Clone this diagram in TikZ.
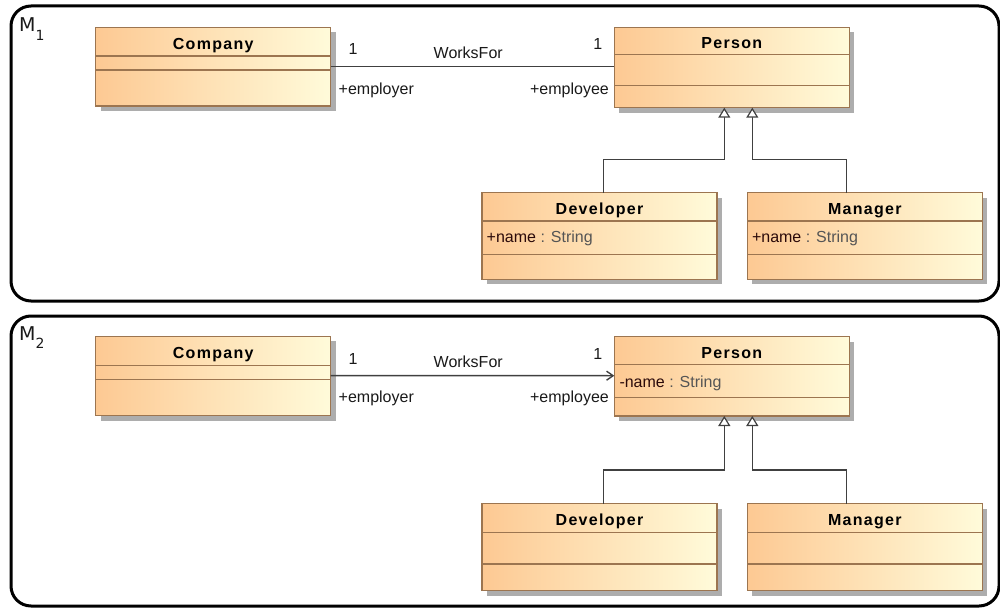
\documentclass[tikz,border=0pt]{standalone}
\usepackage{fontspec}
\setmainfont{Liberation Sans}
\newfontfamily\titlefont{Liberation Sans}[LetterSpace=8]
\newfontfamily\framefont{DejaVu Sans}
\usetikzlibrary{arrows.meta,shadows,calc}

\definecolor{clsleft}{HTML}{FDC993}
\definecolor{clsright}{HTML}{FFFBDA}
\definecolor{clsborder}{HTML}{9C7550}
\definecolor{clsshadow}{HTML}{ADADAD}
\definecolor{wire}{HTML}{404040}
\definecolor{attrname}{HTML}{2B0A0A}
\definecolor{attrtype}{HTML}{555555}

\begin{document}
\begin{tikzpicture}[x=1pt,y=-1pt,
  classbox/.style={draw=clsborder, line width=1.3pt, left color=clsleft, right color=clsright,
    minimum width=235pt, inner sep=0pt, outer sep=0pt, anchor=north west,
    drop shadow={shadow xshift=5pt, shadow yshift=-5pt, fill=clsshadow, opacity=1}},
  sepline/.style={draw=clsborder, line width=1.3pt},
  classname/.style={anchor=base, inner sep=0pt, font=\titlefont\bfseries\fontsize{16}{19}\selectfont},
  attrtext/.style={anchor=base west, inner sep=0pt, font=\fontsize{16}{19}\selectfont},
  roletext/.style={inner sep=0pt, font=\fontsize{16}{19}\selectfont, text=black!90},
  wireline/.style={draw=wire, line width=1.4pt},
  gen/.style={wireline, -{Triangle[length=10pt, width=12pt, fill=white, line width=1.2pt]}},
  nav/.style={wireline, -{Straight Barb[length=6.5pt, width=9pt]}},
  frame/.style={draw=black, line width=3pt, rounded corners=20pt},
  framelabel/.style={anchor=base west, inner sep=0pt, text=black!90,
    font=\framefont\fontsize{19}{22}\selectfont}
]
\useasboundingbox (0,0) rectangle (1000,612);

% ---------- model M1 ----------
\draw[frame] (11,6) rectangle (999,301);
\node[framelabel] (m1label) at (19,31.7) {M\raisebox{-8.5pt}{\fontsize{14}{16}\selectfont 1}};

\node[classbox, minimum height=78.7pt] (compA) at (95.7,27.3) {};
\node[classbox, minimum height=80.4pt] (persA) at (614.3,27.3) {};
\node[classbox, minimum height=86.6pt] (devA) at (482,192.7) {};
\node[classbox, minimum height=86.6pt] (mgrA) at (747.3,192.7) {};

\draw[sepline] ($(compA.north west)+(0,28.7)$) -- ($(compA.north east)+(0,28.7)$);
\draw[sepline] ($(compA.north west)+(0,42.7)$) -- ($(compA.north east)+(0,42.7)$);
\draw[sepline] ($(persA.north west)+(0,27.4)$) -- ($(persA.north east)+(0,27.4)$);
\draw[sepline] ($(persA.north west)+(0,58)$) -- ($(persA.north east)+(0,58)$);
\draw[sepline] ($(devA.north west)+(0,28.3)$) -- ($(devA.north east)+(0,28.3)$);
\draw[sepline] ($(devA.north west)+(0,61.6)$) -- ($(devA.north east)+(0,61.6)$);
\draw[sepline] ($(mgrA.north west)+(0,28.3)$) -- ($(mgrA.north east)+(0,28.3)$);
\draw[sepline] ($(mgrA.north west)+(0,61.6)$) -- ($(mgrA.north east)+(0,61.6)$);

\node[classname] (compAname) at ($(compA.north)+(0,22.3)$) {Company};
\node[classname] (persAname) at ($(persA.north)+(0,21.6)$) {Person};
\node[classname] (devAname) at ($(devA.north)+(0,21.8)$) {Developer};
\node[classname] (mgrAname) at ($(mgrA.north)+(0,21.8)$) {Manager};

\node[attrtext] (devAattr) at ($(devA.north west)+(4.5,49.6)$)
  {{\color{attrname}+name}\ {\color{attrtype}: String}};
\node[attrtext] (mgrAattr) at ($(mgrA.north west)+(4.5,49.6)$)
  {{\color{attrname}+name}\ {\color{attrtype}: String}};

\draw[wireline] ($(compA.north east)+(0,39.4)$) -- ($(persA.north west)+(0,39.4)$);
\node[roletext, anchor=base west] (compAmult) at (348.5,55) {1};
\node[roletext, anchor=base east] (persAmult) at (602.5,49.3) {1};
\node[roletext, anchor=base west] (assocA) at (433.5,58.3) {WorksFor};
\node[roletext, anchor=base west] (compArole) at (338.5,94.5) {+employer};
\node[roletext, anchor=base east] (persArole) at (609,94.5) {+employee};

\draw[gen] ([xshift=4.2pt]devA.north) -- ++(0,-33.4) -| ([xshift=-7.5pt]persA.south);
\draw[gen] ([xshift=-18.1pt]mgrA.north) -- ++(0,-33.4) -| ([xshift=20.5pt]persA.south);

% ---------- model M2 ----------
\draw[frame] (11,316) rectangle (999,606);
\node[framelabel] (m2label) at (19,340) {M\raisebox{-8.5pt}{\fontsize{14}{16}\selectfont 2}};

\node[classbox, minimum height=79.3pt] (compB) at (95.7,336.3) {};
\node[classbox, minimum height=79.3pt] (persB) at (614.3,336.7) {};
\node[classbox, minimum height=87pt] (devB) at (482,503.5) {};
\node[classbox, minimum height=87pt] (mgrB) at (747.3,503.5) {};

\draw[sepline] ($(compB.north west)+(0,28.9)$) -- ($(compB.north east)+(0,28.9)$);
\draw[sepline] ($(compB.north west)+(0,42.9)$) -- ($(compB.north east)+(0,42.9)$);
\draw[sepline] ($(persB.north west)+(0,27.6)$) -- ($(persB.north east)+(0,27.6)$);
\draw[sepline] ($(persB.north west)+(0,61)$) -- ($(persB.north east)+(0,61)$);
\draw[sepline] ($(devB.north west)+(0,28.7)$) -- ($(devB.north east)+(0,28.7)$);
\draw[sepline] ($(devB.north west)+(0,60.6)$) -- ($(devB.north east)+(0,60.6)$);
\draw[sepline] ($(mgrB.north west)+(0,28.7)$) -- ($(mgrB.north east)+(0,28.7)$);
\draw[sepline] ($(mgrB.north west)+(0,60.6)$) -- ($(mgrB.north east)+(0,60.6)$);

\node[classname] (compBname) at ($(compB.north)+(0,22.3)$) {Company};
\node[classname] (persBname) at ($(persB.north)+(0,21.6)$) {Person};
\node[classname] (devBname) at ($(devB.north)+(0,22)$) {Developer};
\node[classname] (mgrBname) at ($(mgrB.north)+(0,22)$) {Manager};

\node[attrtext] (persBattr) at ($(persB.north west)+(5,50.6)$)
  {{\color{attrname}-name}\ {\color{attrtype}: String}};

\draw[nav] ($(compB.north east)+(0,39.3)$) -- ($(persB.north west)+(0,39)$);
\node[roletext, anchor=base west] (compBmult) at (348.5,364.5) {1};
\node[roletext, anchor=base east] (persBmult) at (602.5,359.6) {1};
\node[roletext, anchor=base west] (assocB) at (433.5,367.8) {WorksFor};
\node[roletext, anchor=base west] (compBrole) at (338.5,402.8) {+employer};
\node[roletext, anchor=base east] (persBrole) at (609,402.8) {+employee};

\draw[gen] ([xshift=4.2pt]devB.north) -- ++(0,-33.5) -| ([xshift=-7.5pt]persB.south);
\draw[gen] ([xshift=-18.1pt]mgrB.north) -- ++(0,-33.5) -| ([xshift=20.5pt]persB.south);
\end{tikzpicture}
\end{document}
